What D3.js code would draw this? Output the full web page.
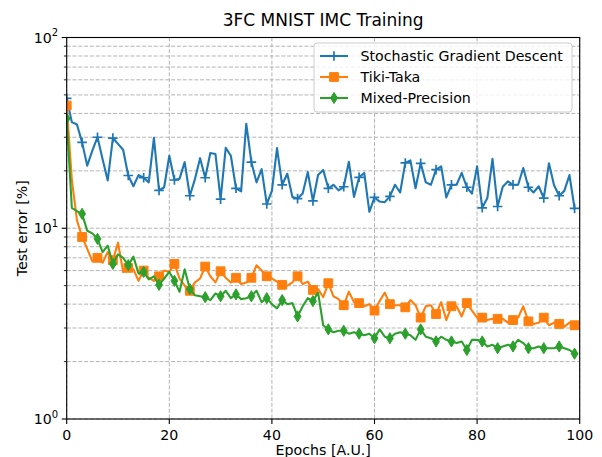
<!DOCTYPE html>
<html>
<head>
<meta charset="utf-8">
<script src="https://cdn.jsdelivr.net/npm/d3@7"></script>
<style>
  html, body { margin: 0; padding: 0; background: #fff; }
  svg { display: block; font-family: "DejaVu Sans", sans-serif; }
</style>
</head>
<body>
<svg id="chart" width="602" height="457"></svg>
<script>
// Test error (%) per training epoch for three in-memory-computing training schemes
const epochs = d3.range(0, 100);

const sgdError = [
  48, 36, 35, 28.2, 21.3, 25.5, 30, 23, 17.8, 29.7,
  27.7, 25.8, 18.9, 16.6, 19.0, 18.4, 17.4, 29.8, 15.8, 16.4,
  24.0, 17.9, 18.2, 22.2, 14.8, 18.1, 23.3, 18.4, 24.8, 24.5,
  14.2, 26.4, 24.0, 16.2, 15.6, 35.3, 22.2, 17.4, 20.4, 13.4,
  15.7, 26.3, 16.9, 19.3, 14.6, 14.3, 15.2, 19.7, 13.9, 19.0,
  20.2, 16.2, 16.9, 15.8, 16.5, 22.3, 14.6, 18.5, 19.5, 12.2,
  14.5, 13.8, 13.7, 14.7, 16.9, 15.4, 22.0, 22.7, 16.2, 21.9,
  17.4, 16.9, 20.3, 21.1, 14.5, 16.9, 16.9, 19.5, 16.4, 15.2,
  21.1, 12.8, 14.4, 23.1, 13.0, 16.5, 17.6, 16.9, 16.9, 20.7,
  16.4, 15.4, 16.6, 14.4, 21.9, 16.8, 14.8, 15.7, 19.0, 12.7
];

const tikiTakaError = [
  44, 18, 11, 9.0, 7.8, 6.7, 7.0, 6.6, 7.5, 6.8,
  8.4, 5.9, 6.2, 6.1, 5.3, 6.0, 5.5, 5.3, 5.6, 6.0,
  5.9, 6.5, 5.45, 5.0, 4.7, 5.2, 5.45, 6.3, 5.6, 5.2,
  5.95, 5.5, 5.2, 5.5, 5.1, 5.2, 5.5, 6.4, 6.0, 5.6,
  5.45, 5.25, 5.05, 5.0, 5.2, 5.6, 5.1, 5.25, 4.75, 4.8,
  4.35, 5.15, 4.4, 4.25, 3.95, 4.65, 4.1, 4.05, 3.9, 4.0,
  3.7, 4.15, 4.6, 4.0, 3.95, 3.95, 3.85, 4.2, 3.95, 3.4,
  3.9, 3.95, 3.55, 4.1, 3.3, 3.9, 3.9, 3.45, 4.05, 3.7,
  3.4, 3.4, 3.3, 3.35, 3.35, 3.35, 3.2, 3.3, 3.4, 3.9,
  3.25, 3.15, 3.2, 3.4, 3.1, 3.2, 3.15, 3.05, 3.2, 3.1
];

const mixedPrecisionError = [
  37.6, 12.8, 12.3, 11.9, 9.7, 9.4, 8.8, 7.5, 8.1, 6.5,
  7.3, 7.0, 6.4, 7.1, 5.8, 5.9, 5.4, 5.6, 5.05, 5.45,
  5.9, 5.3, 4.65, 6.1, 4.8, 4.45, 4.4, 4.35, 4.2, 4.55,
  4.4, 4.7, 4.3, 4.5, 4.25, 4.3, 4.4, 4.7, 4.1, 4.3,
  4.0, 3.8, 4.2, 4.0, 4.05, 3.45, 3.9, 4.3, 4.15, 4.6,
  3.1, 2.95, 2.85, 2.9, 2.9, 2.8, 2.85, 2.8, 2.75, 2.8,
  2.65, 2.95, 2.7, 2.65, 2.8, 2.85, 2.8, 2.75, 2.6, 2.95,
  2.7, 2.65, 2.55, 2.7, 2.6, 2.55, 2.5, 2.55, 2.3, 2.6,
  2.6, 2.55, 2.4, 2.45, 2.35, 2.4, 2.45, 2.4, 2.6, 2.5,
  2.35, 2.35, 2.4, 2.35, 2.35, 2.35, 2.4, 2.35, 2.3, 2.2
];

const seriesNames = ["Stochastic Gradient Descent", "Tiki-Taka", "Mixed-Precision"];
const seriesColors = ["#1f77b4", "#ff7f0e", "#2ca02c"];
const seriesMarkers = ["plus", "square", "thinDiamond"];
const xTicks = [0, 20, 40, 60, 80, 100];
const yMajorTicks = [1, 10, 100];
const yTickExponents = ["0", "1", "2"];

const title = "3FC MNIST IMC Training";
const xLabel = "Epochs [A.U.]";
const yLabel = "Test error [%]";

const series = seriesNames.map((name, i) => ({
  name,
  color: seriesColors[i],
  marker: seriesMarkers[i],
  values: [sgdError, tikiTakaError, mixedPrecisionError][i]
}));

// ---- layout ----
const plot = { left: 66.7, right: 579.7, top: 37.5, bottom: 419 };
const markEvery = 3;
const fontSize = 14.2;

const x = d3.scaleLinear().domain([0, 100]).range([plot.left, plot.right]);
const y = d3.scaleLog().domain([1, 100]).range([plot.bottom, plot.top]);

const svg = d3.select("#chart");

// minor log ticks (2..9 in each decade)
const yMinorTicks = [];
[1, 10].forEach(d => { for (let k = 2; k <= 9; k++) yMinorTicks.push(d * k); });

// ---- grid ----
const grid = svg.append("g").attr("class", "grid")
  .attr("stroke", "#b0b0b0").attr("stroke-width", 0.95)
  .attr("stroke-dasharray", "4,1.8").attr("fill", "none");

grid.selectAll("line.gx").data(xTicks).join("line")
  .attr("class", "gx")
  .attr("x1", d => x(d)).attr("x2", d => x(d))
  .attr("y1", plot.top).attr("y2", plot.bottom);

grid.selectAll("line.gy").data(yMajorTicks.concat(yMinorTicks)).join("line")
  .attr("class", "gy")
  .attr("x1", plot.left).attr("x2", plot.right)
  .attr("y1", d => y(d)).attr("y2", d => y(d));

// ---- clipping ----
svg.append("defs").append("clipPath").attr("id", "plot-clip")
  .append("rect")
  .attr("x", plot.left).attr("y", plot.top)
  .attr("width", plot.right - plot.left).attr("height", plot.bottom - plot.top);

// ---- marker shapes ----
function markerPath(kind) {
  if (kind === "plus") {
    const s = 4.8;
    return `M${-s},0H${s}M0,${-s}V${s}`;
  }
  if (kind === "square") {
    const s = 4.4;
    return `M${-s},${-s}H${s}V${s}H${-s}Z`;
  }
  // thin diamond
  const h = 5.6, w = 3.4;
  return `M0,${-h}L${w},0L0,${h}L${-w},0Z`;
}

function drawMarker(sel, kind, color) {
  const p = sel.append("path").attr("d", markerPath(kind));
  if (kind === "plus") {
    p.attr("fill", "none").attr("stroke", color).attr("stroke-width", 1.7);
  } else {
    p.attr("fill", color).attr("stroke", color).attr("stroke-width", 1);
  }
}

// ---- series ----
const line = d3.line().x((d, i) => x(epochs[i])).y(d => y(d));
const plotArea = svg.append("g").attr("clip-path", "url(#plot-clip)");

series.forEach(s => {
  const g = plotArea.append("g").attr("class", "series");
  g.append("path")
    .attr("d", line(s.values))
    .attr("fill", "none")
    .attr("stroke", s.color)
    .attr("stroke-width", 2.1)
    .attr("stroke-linejoin", "round")
    .attr("stroke-linecap", "square");
  const pts = s.values.map((v, i) => ({ e: epochs[i], v })).filter((d, i) => i % markEvery === 0);
  g.selectAll("g.mk").data(pts).join("g")
    .attr("class", "mk")
    .attr("transform", d => `translate(${x(d.e)},${y(d.v)})`)
    .each(function () { drawMarker(d3.select(this), s.marker, s.color); });
});

// ---- axes frame ----
svg.append("rect")
  .attr("x", plot.left).attr("y", plot.top)
  .attr("width", plot.right - plot.left).attr("height", plot.bottom - plot.top)
  .attr("fill", "none").attr("stroke", "#000").attr("stroke-width", 1.1);

// x axis ticks and labels
const xAxis = svg.append("g").attr("class", "x-axis");
xAxis.selectAll("line").data(xTicks).join("line")
  .attr("x1", d => x(d)).attr("x2", d => x(d))
  .attr("y1", plot.bottom).attr("y2", plot.bottom + 5)
  .attr("stroke", "#000").attr("stroke-width", 1.1);
xAxis.selectAll("text").data(xTicks).join("text")
  .attr("x", d => x(d)).attr("y", plot.bottom + 21)
  .attr("text-anchor", "middle")
  .attr("font-size", fontSize).attr("fill", "#000")
  .text(d => d);

// y axis ticks and labels
const yAxis = svg.append("g").attr("class", "y-axis");
yAxis.selectAll("line.major").data(yMajorTicks).join("line")
  .attr("class", "major")
  .attr("x1", plot.left - 5).attr("x2", plot.left)
  .attr("y1", d => y(d)).attr("y2", d => y(d))
  .attr("stroke", "#000").attr("stroke-width", 1.1);
yAxis.selectAll("line.minor").data(yMinorTicks).join("line")
  .attr("class", "minor")
  .attr("x1", plot.left - 2.8).attr("x2", plot.left)
  .attr("y1", d => y(d)).attr("y2", d => y(d))
  .attr("stroke", "#000").attr("stroke-width", 0.85);
const yLabels = yAxis.selectAll("text").data(yMajorTicks).join("text")
  .attr("x", plot.left - 8.5)
  .attr("y", d => y(d) + 5)
  .attr("text-anchor", "end")
  .attr("font-size", fontSize).attr("fill", "#000");
yLabels.append("tspan").text("10");
yLabels.append("tspan")
  .attr("dy", -6.5).attr("font-size", 10)
  .text((d, i) => yTickExponents[i]);

// ---- titles ----
svg.append("text")
  .attr("x", (plot.left + plot.right) / 2).attr("y", 26)
  .attr("text-anchor", "middle").attr("font-size", 17).attr("fill", "#000")
  .text(title);

svg.append("text")
  .attr("x", (plot.left + plot.right) / 2).attr("y", 454.5)
  .attr("text-anchor", "middle").attr("font-size", fontSize).attr("fill", "#000")
  .text(xLabel);

svg.append("text")
  .attr("transform", `translate(27,${(plot.top + plot.bottom) / 2}) rotate(-90)`)
  .attr("text-anchor", "middle").attr("font-size", fontSize).attr("fill", "#000")
  .text(yLabel);

// ---- legend ----
const legend = svg.append("g").attr("class", "legend");
const lg = { x: 314, y: 43, w: 258, h: 69 };
legend.append("rect")
  .attr("x", lg.x).attr("y", lg.y).attr("width", lg.w).attr("height", lg.h)
  .attr("rx", 3).attr("ry", 3)
  .attr("fill", "#fff").attr("fill-opacity", 0.8)
  .attr("stroke", "#cccccc").attr("stroke-width", 1);

const rows = legend.selectAll("g.row").data(series).join("g")
  .attr("class", "row")
  .attr("transform", (d, i) => `translate(${lg.x}, ${lg.y + 13 + i * 21})`);
rows.append("line")
  .attr("x1", 6).attr("x2", 34).attr("y1", 0).attr("y2", 0)
  .attr("stroke", d => d.color).attr("stroke-width", 2.1);
rows.each(function (d) {
  const m = d3.select(this).append("g").attr("transform", "translate(20,0)");
  drawMarker(m, d.marker, d.color);
});
rows.append("text")
  .attr("x", 46.5).attr("y", 5.2)
  .attr("font-size", fontSize).attr("fill", "#000")
  .text(d => d.name);
</script>
</body>
</html>
